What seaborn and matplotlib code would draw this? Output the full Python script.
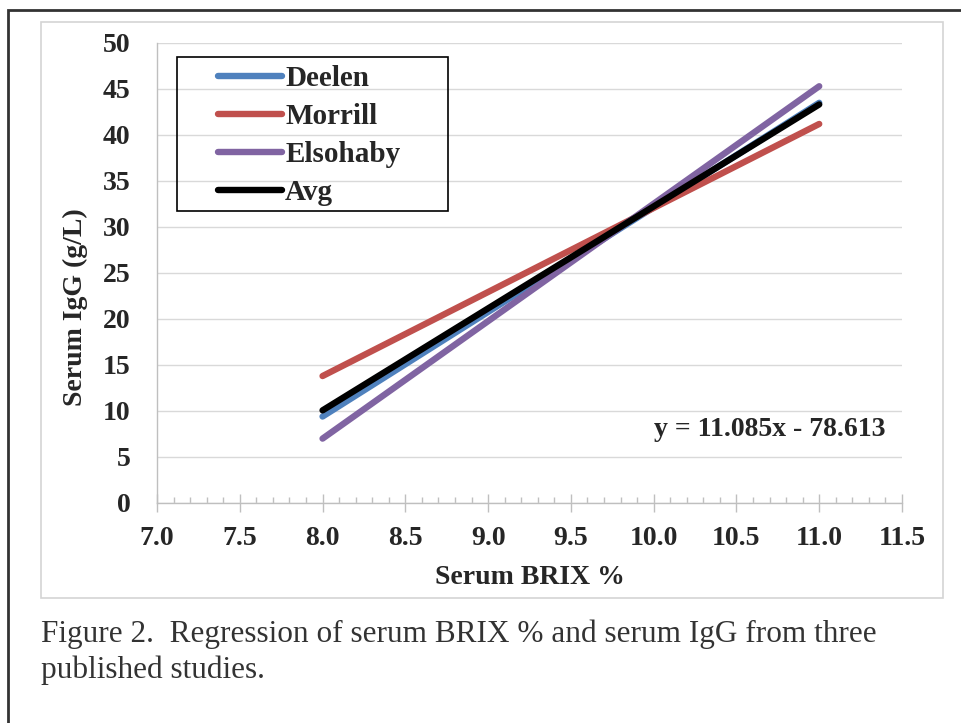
import matplotlib
matplotlib.use("Agg")
import matplotlib.pyplot as plt
from matplotlib.patches import Rectangle
from matplotlib.ticker import MultipleLocator, FormatStrFormatter
import seaborn as sns
import pandas as pd

# Datos (rectas de regresión, extremos en BRIX 8 y 11)
brix = [8.0, 11.0]
deelen = [9.4, 43.5]
morrill = [13.8, 41.2]
elsohaby = [7.0, 45.3]
avg = [10.07, 43.32]
studies = ['Deelen', 'Morrill', 'Elsohaby', 'Avg']
colors = ['#4F81BD', '#C0504D', '#8064A2', '#000000']
equation = 'y = 11.085x - 78.613'
caption = 'Figure 2.  Regression of serum BRIX % and serum IgG from three\npublished studies.'

rows = []
for name, vals in zip(studies, [deelen, morrill, elsohaby, avg]):
    for x, y in zip(brix, vals):
        rows.append({'BRIX': x, 'IgG': y, 'Study': name})
df = pd.DataFrame(rows)

sns.set_theme(style='white')
plt.rcParams['font.family'] = ['Liberation Serif', 'DejaVu Serif']

W, H = 961, 723
fig = plt.figure(figsize=(W / 100, H / 100), dpi=100)
fig.patch.set_facecolor('white')

# marco exterior negro y caja gris del gráfico
fig.add_artist(Rectangle((8 / W, -0.2), 1.3, 1.2 - 10 / H, transform=fig.transFigure,
                         fill=False, edgecolor='#333333', lw=2))
fig.add_artist(Rectangle((41 / W, 1 - 598 / H), 902 / W, 576 / H, transform=fig.transFigure,
                         fill=False, edgecolor='#d4d4d4', lw=1.2))

ax = fig.add_axes([157 / W, 1 - 503 / H, 745 / W, 460 / H])
sns.lineplot(data=df, x='BRIX', y='IgG', hue='Study', palette=colors, hue_order=studies,
             lw=4.6, solid_capstyle='round', legend=False, ax=ax)

ax.set_xlim(7.0, 11.5)
ax.set_ylim(0, 50)
ax.xaxis.set_major_locator(MultipleLocator(0.5))
ax.xaxis.set_minor_locator(MultipleLocator(0.1))
ax.yaxis.set_major_locator(MultipleLocator(5))
ax.xaxis.set_major_formatter(FormatStrFormatter('%.1f'))
ax.grid(axis='y', color='#d9d9d9', lw=1)
ax.grid(axis='x', visible=False)
ax.set_axisbelow(True)
for s in ['top', 'right']:
    ax.spines[s].set_visible(False)
for s in ['left', 'bottom']:
    ax.spines[s].set_color('#bfbfbf')
    ax.spines[s].set_linewidth(1)
ax.tick_params(axis='x', which='both', bottom=True)
ax.tick_params(axis='x', which='major', direction='inout', length=13, width=1, color='#bfbfbf',
               pad=10, labelsize=20)
ax.tick_params(axis='x', which='minor', direction='in', length=4.5, width=1, color='#bfbfbf')
ax.tick_params(axis='y', left=False, length=0, pad=19, labelsize=20)
for lab in ax.get_xticklabels() + ax.get_yticklabels():
    lab.set_fontweight('bold')
ax.set_xlabel('')
ax.set_ylabel('')

fig.text(530 / W, 1 - 578 / H, 'Serum BRIX %', ha='center', va='center', fontsize=20, fontweight='bold')
fig.text(75 / W, 1 - 307 / H, 'Serum IgG (g/L)', ha='center', va='center', rotation=90,
         fontsize=20, fontweight='bold')
fig.text(885 / W, 1 - 430 / H, equation, ha='right', va='center', fontsize=20, fontweight='bold')

# leyenda con recuadro propio
handles = [plt.Line2D([], [], color=c, lw=4.6, solid_capstyle='round') for c in colors]
leg = ax.legend(handles, studies, loc='upper left', bbox_to_anchor=(218 / W, 1 - 65 / H),
                bbox_transform=fig.transFigure, frameon=False, prop={'weight': 'bold', 'size': 21},
                handlelength=2.2, handletextpad=0.1, labelspacing=0.38, borderaxespad=0, borderpad=0)
fig.add_artist(Rectangle((177 / W, 1 - 211 / H), 271 / W, 154 / H, transform=fig.transFigure,
                         fill=False, edgecolor='black', lw=1.2))

fig.text(41 / W, 1 - 652 / H, caption, ha='left', va='center', fontsize=22.5, color='#333333',
         linespacing=1.3)

fig.savefig('out.png', dpi=100, facecolor='white')
